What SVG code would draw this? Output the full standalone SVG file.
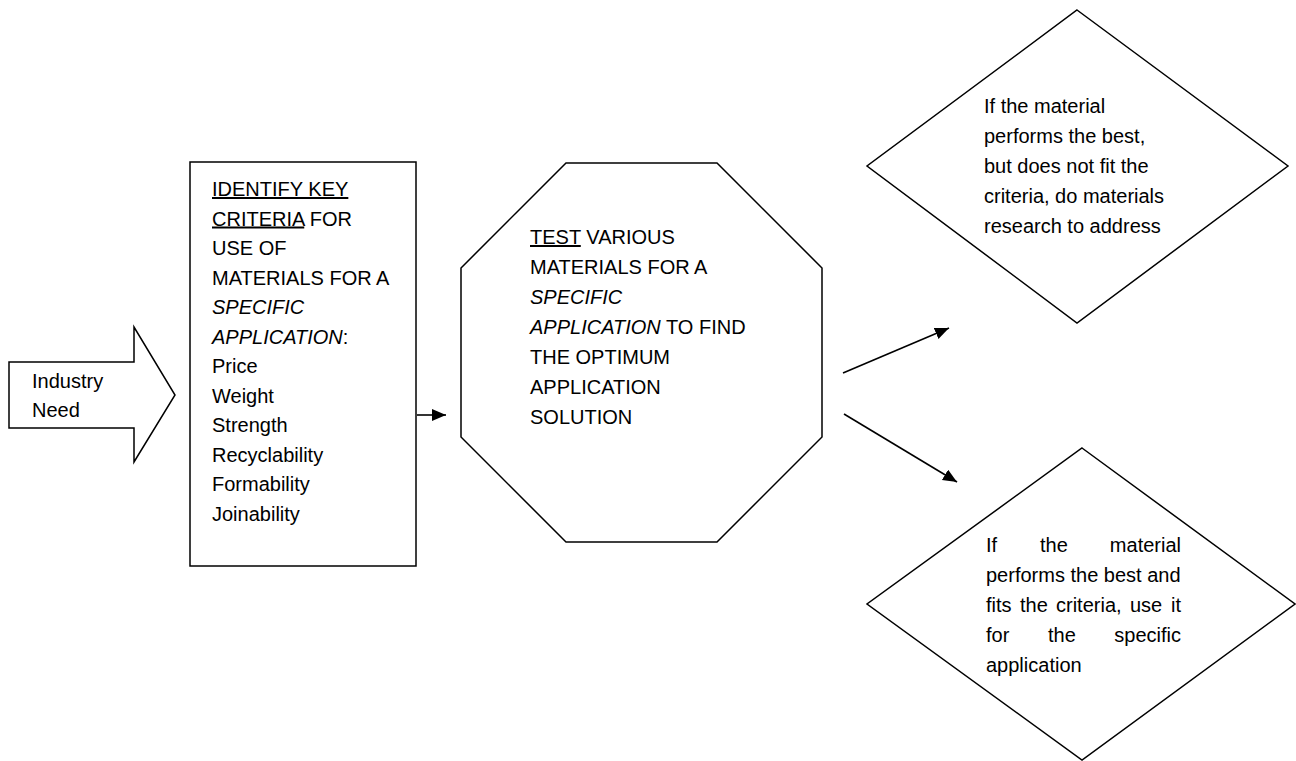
<svg xmlns="http://www.w3.org/2000/svg" width="1296" height="761" viewBox="0 0 1296 761">
<defs>
<style>
.shape{fill:#fff;stroke:#000;stroke-width:1.5;stroke-linejoin:miter}
.t{font-family:"Liberation Sans",Arial,sans-serif;font-size:20px;fill:#000}
.i{font-style:italic}
.u{text-decoration:underline}
.conn{stroke:#000;stroke-width:1.6;fill:none}
</style>
<marker id="ah" markerUnits="userSpaceOnUse" markerWidth="16" markerHeight="14" refX="14" refY="6" orient="auto">
<path d="M0,0 L14,6 L0,12 z" fill="#000"/>
</marker>
</defs>
<rect width="1296" height="761" fill="#fff"/>

<g id="industry-need">
<polygon class="shape" points="9,362 134,362 134,327 175,395 134,462 134,428 9,428"/>
<text class="t" x="32" y="388">Industry</text>
<text class="t" x="32" y="417">Need</text>
</g>

<g id="criteria">
<rect class="shape" x="190" y="162" width="226" height="404"/>
<text class="t" x="212" y="196"><tspan class="u">IDENTIFY KEY</tspan></text>
<text class="t" x="212" y="225.5"><tspan class="u">CRITERIA</tspan> FOR</text>
<text class="t" x="212" y="255">USE OF</text>
<text class="t" x="212" y="284.5">MATERIALS FOR A</text>
<text class="t i" x="212" y="314">SPECIFIC</text>
<text class="t" x="212" y="343.5"><tspan class="i">APPLICATION</tspan>:</text>
<text class="t" x="212" y="373">Price</text>
<text class="t" x="212" y="402.5">Weight</text>
<text class="t" x="212" y="432">Strength</text>
<text class="t" x="212" y="461.5">Recyclability</text>
<text class="t" x="212" y="491">Formability</text>
<text class="t" x="212" y="520.5">Joinability</text>
</g>

<g id="test">
<polygon class="shape" points="566,163 717,163 822,268 822,437 717,542 566,542 461,437 461,268"/>
<text class="t" x="530" y="244"><tspan class="u">TEST</tspan> VARIOUS</text>
<text class="t" x="530" y="274">MATERIALS FOR A</text>
<text class="t i" x="530" y="304">SPECIFIC</text>
<text class="t" x="530" y="334"><tspan class="i">APPLICATION</tspan> TO FIND</text>
<text class="t" x="530" y="364">THE OPTIMUM</text>
<text class="t" x="530" y="394">APPLICATION</text>
<text class="t" x="530" y="424">SOLUTION</text>
</g>

<g id="research">
<polygon class="shape" points="1077,10 1288,166 1077,323 867,166"/>
<text class="t" x="984" y="113">If the material</text>
<text class="t" x="984" y="143">performs the best,</text>
<text class="t" x="984" y="173">but does not fit the</text>
<text class="t" x="984" y="203">criteria, do materials</text>
<text class="t" x="984" y="233">research to address</text>
</g>

<g id="use-it">
<polygon class="shape" points="1082,448 1295,604 1082,760 867,604"/>
<text class="t" x="986" y="552">If</text>
<text class="t" x="1040" y="552">the</text>
<text class="t" x="1181" y="552" text-anchor="end">material</text>
<text class="t" x="986" y="582">performs the best and</text>
<text class="t" x="986" y="612">fits</text>
<text class="t" x="1020" y="612">the</text>
<text class="t" x="1056" y="612">criteria,</text>
<text class="t" x="1130" y="612">use</text>
<text class="t" x="1181" y="612" text-anchor="end">it</text>
<text class="t" x="986" y="642">for</text>
<text class="t" x="1048" y="642">the</text>
<text class="t" x="1181" y="642" text-anchor="end">specific</text>
<text class="t" x="986" y="672">application</text>
</g>

<g id="connectors">
<line class="conn" x1="417" y1="415" x2="446" y2="415" marker-end="url(#ah)"/>
<line class="conn" x1="843" y1="373" x2="949" y2="328" marker-end="url(#ah)"/>
<line class="conn" x1="844" y1="414" x2="957" y2="482" marker-end="url(#ah)"/>
</g>
</svg>
